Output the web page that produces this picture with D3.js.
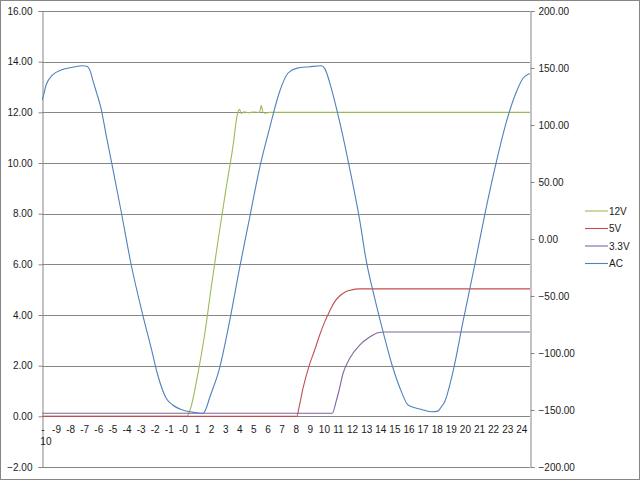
<!DOCTYPE html>
<html>
<head>
<meta charset="utf-8">
<script src="https://cdn.jsdelivr.net/npm/d3@7"></script>
<style>
  html, body { margin: 0; padding: 0; background: #fff; }
  svg text { font-family: "Liberation Sans", Arial, sans-serif; font-size: 10px; fill: #1a1a1a; }
</style>
</head>
<body>
<svg id="chart" width="640" height="480"></svg>
<script>
// ---------- data ----------
const xLabels = ["-10","-9","-8","-7","-6","-5","-4","-3","-2","-1","-0",
  "1","2","3","4","5","6","7","8","9","10","11","12","13","14","15","16",
  "17","18","19","20","21","22","23","24"];
const leftTicks = [-2, 0, 2, 4, 6, 8, 10, 12, 14, 16];
const rightTicks = [-200, -150, -100, -50, 0, 50, 100, 150, 200];
const seriesNames = ["12V", "5V", "3.3V", "AC"];

// [time, volts] pairs (left axis)
const v12 = [[-10.03,0],[0.25,0],[0.5,0.3],[1.0,1.6],[1.5,3.2],[2.0,5.2],[2.5,7.1],[3.0,8.9],[3.5,10.6],
  [3.86,12.0],[3.98,12.12],[4.1,11.96],[4.3,12.02],[4.6,11.99],[5.0,12.01],[5.4,12.0],[5.52,12.27],
  [5.65,12.0],[5.8,11.97],[6.1,12.0],[8,12.0],[12,12.0],[16,12.0],[20,12.0],[24.6,12.0]];
const v5 = [[-10.03,0],[8.05,0],[8.2,0.35],[8.48,1.1],[8.95,2.05],[9.3,2.6],[9.66,3.2],[10.0,3.7],
  [10.37,4.15],[10.7,4.5],[11.08,4.75],[11.45,4.9],[11.79,4.97],[12.2,5.02],[12.5,5.03],[16,5.03],
  [20,5.03],[24.6,5.03]];
const v33 = [[-10.03,0.12],[10.56,0.12],[10.85,0.63],[11.03,1.0],[11.32,1.69],[11.79,2.28],
  [12.5,2.81],[13.21,3.13],[13.8,3.3],[14.2,3.33],[16,3.33],[20,3.33],[24.6,3.33]];
// [time, AC volts] pairs (right axis)
const ac = [[-10.03,122],[-9.98,123.4],[-9.74,135.1],[-9.27,143.9],[-8.67,148.2],[-7.85,150.6],
  [-7.14,152.0],[-6.85,151.5],[-6.6,147],[-6.43,139.5],[-6.15,128],[-5.83,114],[-5.48,91.2],
  [-5.01,62],[-4.41,23.9],[-3.70,-22.8],[-2.88,-66.7],[-2.28,-95.9],[-1.82,-119.3],[-1.22,-139.7],
  [-0.75,-145.6],[0.20,-150.9],[0.91,-152.4],[1.40,-152.9],[1.6,-149],[1.85,-139.7],[2.56,-113.4],
  [3.27,-72.5],[3.98,-25.7],[4.69,18.2],[5.40,62.0],[6.11,97.1],[6.82,129.2],[7.41,145.4],
  [8.01,149.7],[8.95,151.1],[9.78,152.0],[10.02,149.7],[10.49,132.2],[11.08,102.9],[11.79,62.0],
  [12.50,16.7],[12.98,-19.9],[13.57,-52.0],[14.16,-81.3],[14.87,-113.4],[15.46,-133.9],
  [15.93,-145.6],[16.76,-149.1],[17.59,-151.5],[18.05,-151],[18.25,-148],[18.53,-142.7],
  [19.12,-116.4],[19.83,-72.5],[20.66,-22.8],[21.37,21.1],[22.20,67.8],[22.91,102.9],
  [23.62,129.2],[24.09,141.0],[24.45,144.5],[24.6,145]];
const colors = ["#9bbb59", "#c0504d", "#8064a2", "#4f81bd"];

// ---------- layout ----------
const svg = d3.select("#chart");
const L = 42, R = 530, T = 11, B = 467;
const x = d3.scaleLinear().domain([-10, 24]).range([42.4, 521.8]);
const yL = d3.scaleLinear().domain([-2, 16]).range([B, T]);
const yR = d3.scaleLinear().domain([-200, 200]).range([B, T]);
const grid = "#868686";

// outer border
svg.append("rect").attr("x", 0.5).attr("y", 0.5).attr("width", 639).attr("height", 479)
  .attr("fill", "#fff").attr("stroke", grid);

// gridlines
svg.append("g").selectAll("line").data(leftTicks).join("line")
  .attr("x1", L).attr("x2", R)
  .attr("y1", d => Math.round(yL(d)) + 0.5).attr("y2", d => Math.round(yL(d)) + 0.5)
  .attr("stroke", grid).attr("stroke-width", 1);

// left axis
const gL = svg.append("g").attr("transform", `translate(${L + 0.5},0)`)
  .call(d3.axisLeft(yL).tickValues(leftTicks).tickFormat(d3.format(".2f")).tickSize(4).tickPadding(6));
// right axis
const gR = svg.append("g").attr("transform", `translate(${R + 0.5},0)`)
  .call(d3.axisRight(yR).tickValues(rightTicks).tickFormat(d3.format(".2f")).tickSize(4).tickPadding(4));
[gL, gR].forEach(g => {
  g.select(".domain").attr("stroke", grid);
  g.selectAll(".tick line").attr("stroke", grid);
  g.selectAll("text").attr("fill", "#1a1a1a")
    .style("font-family", "'Liberation Sans', Arial, sans-serif").style("font-size", "10px");
});

// x axis line at 0
svg.append("line").attr("x1", L).attr("x2", R)
  .attr("y1", Math.round(yL(0)) + 0.5).attr("y2", Math.round(yL(0)) + 0.5).attr("stroke", grid);

// x labels
const xg = svg.append("g");
xLabels.forEach((lab, i) => {
  const v = -10 + i;
  if (lab === "-10") {
    xg.append("text").attr("x", x(v) + 0.5).attr("y", 432.5).attr("text-anchor", "middle").text("-");
    xg.append("text").attr("x", x(v) + 3.5).attr("y", 444.5).attr("text-anchor", "middle").text("10");
  } else {
    xg.append("text").attr("x", x(v)).attr("y", 432.5).attr("text-anchor", "middle").text(lab);
  }
});

// clip
svg.append("clipPath").attr("id", "plot").append("rect")
  .attr("x", L).attr("y", T).attr("width", R - L).attr("height", B - T);

const lineL = d3.line().x(d => x(d[0])).y(d => yL(d[1])).curve(d3.curveMonotoneX);
const lineR = d3.line().x(d => x(d[0])).y(d => yR(d[1])).curve(d3.curveMonotoneX);
const pg = svg.append("g").attr("clip-path", "url(#plot)");
[v12, v5, v33].forEach((s, i) => {
  pg.append("path").datum(s).attr("d", lineL).attr("fill", "none")
    .attr("stroke", colors[i]).attr("stroke-width", 1.1);
});
pg.append("path").datum(ac).attr("d", lineR).attr("fill", "none")
  .attr("stroke", colors[3]).attr("stroke-width", 1.1);

// legend
const lg = svg.append("g");
seriesNames.forEach((n, i) => {
  const yy = 211 + i * 17.5;
  lg.append("line").attr("x1", 585).attr("x2", 608).attr("y1", yy).attr("y2", yy)
    .attr("stroke", colors[i]).attr("stroke-width", 1.1);
  lg.append("text").attr("x", 609).attr("y", yy + 3.5).text(n);
});
</script>
</body>
</html>
